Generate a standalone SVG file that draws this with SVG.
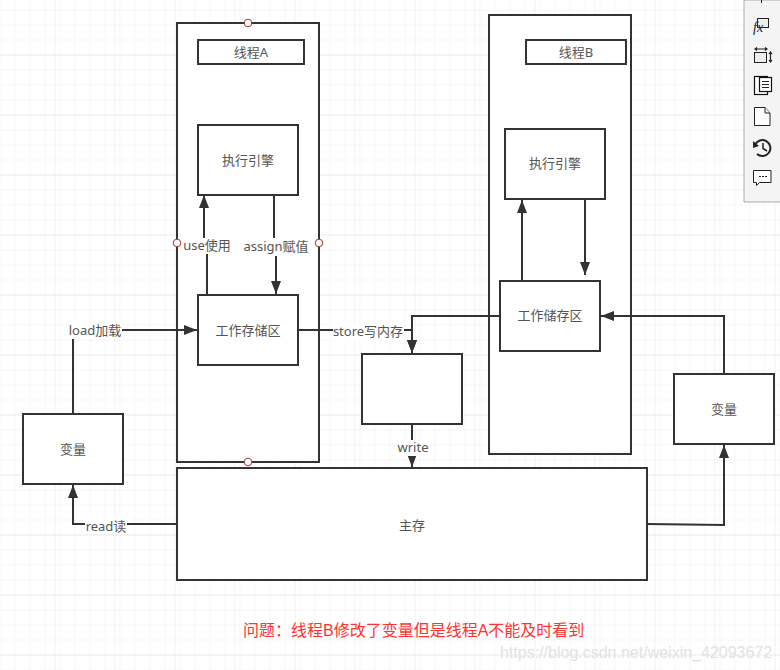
<svg xmlns="http://www.w3.org/2000/svg" width="780" height="670" viewBox="0 0 780 670">
<style>
.box{fill:#fff;stroke:#333;stroke-width:2}
.t{font-family:"Noto Sans","Noto Sans CJK SC",sans-serif;font-size:13px;fill:#555;text-anchor:middle}
.l{fill:#fff;stroke:none}
.c{fill:none;stroke:#333;stroke-width:2}
.h{fill:#fff;stroke:#a33;stroke-width:1}
.i{fill:none;stroke:#222;stroke-width:1.2}
</style>
<defs>
<pattern id="g" x="14.5" y="9.5" width="15" height="15" patternUnits="userSpaceOnUse"><path d="M0 0V15M0 0H15" fill="none" stroke="#eeeeee" stroke-width="1"/></pattern>
<pattern id="G" x="54.5" y="54.5" width="60" height="60" patternUnits="userSpaceOnUse"><path d="M0 0V60M0 0H60" fill="none" stroke="#e4e4e4" stroke-width="1"/></pattern>
<marker id="a" markerUnits="userSpaceOnUse" markerWidth="14" markerHeight="12" refX="13" refY="5" orient="auto"><path d="M0 0L13 5L0 10Z" fill="#333"/></marker>
</defs>
<rect width="780" height="670" fill="#fff"/>
<rect width="780" height="670" fill="url(#g)"/>
<rect width="780" height="670" fill="url(#G)"/>
<g id="threadA"><rect class="box" x="177" y="23" width="142" height="439"/>
<circle class="h" cx="248" cy="23" r="3.8"/><circle class="h" cx="177" cy="243" r="3.8"/><circle class="h" cx="319" cy="243" r="3.8"/><circle class="h" cx="248" cy="462" r="3.8"/></g>
<g id="threadB"><rect class="box" x="489" y="15" width="142" height="439"/></g>
<g id="labelA"><rect class="box" x="198" y="40" width="106" height="24"/><text class="t" x="251" y="57">线程A</text></g>
<g id="labelB"><rect class="box" x="526" y="40" width="100" height="24"/><text class="t" x="576" y="57">线程B</text></g>
<g id="engineA"><rect class="box" x="198" y="125" width="100" height="70"/><text class="t" x="248" y="165">执行引擎</text></g>
<g id="engineB"><rect class="box" x="505" y="129" width="100" height="70"/><text class="t" x="555" y="168">执行引擎</text></g>
<g id="workA"><rect class="box" x="198" y="295" width="100" height="70"/><text class="t" x="248" y="335">工作存储区</text></g>
<g id="workB"><rect class="box" x="500" y="281" width="100" height="70"/><text class="t" x="550" y="320">工作储存区</text></g>
<g id="buffer"><rect class="box" x="362" y="354" width="100" height="70"/></g>
<g id="varL"><rect class="box" x="23" y="414" width="100" height="70"/><text class="t" x="73" y="454">变量</text></g>
<g id="varR"><rect class="box" x="674" y="374" width="100" height="70"/><text class="t" x="724" y="414">变量</text></g>
<g id="main"><rect class="box" x="177" y="468" width="470" height="112"/><text class="t" x="412" y="530">主存</text></g>
<g id="connectors">
<path class="c" d="M207 295V242H204V195" marker-end="url(#a)"/>
<path class="c" d="M274 195V245H276V294" marker-end="url(#a)"/>
<path class="c" d="M73 414V330H197" marker-end="url(#a)"/>
<path class="c" d="M298 330H412V353" marker-end="url(#a)"/>
<path class="c" d="M500 316H412V353" marker-end="url(#a)"/>
<path class="c" d="M412 424V467" marker-end="url(#a)"/>
<path class="c" d="M177 524H73V485" marker-end="url(#a)"/>
<path class="c" d="M647 524L724 525V445" marker-end="url(#a)"/>
<path class="c" d="M724 374V316H601" marker-end="url(#a)"/>
<path class="c" d="M522 281V200" marker-end="url(#a)"/>
<path class="c" d="M585 199V275" marker-end="url(#a)"/>
<rect class="l" x="183" y="238" width="48" height="16"/><text class="t" x="207" y="250">use使用</text>
<rect class="l" x="243" y="238" width="66" height="18"/><text class="t" x="276" y="251">assign赋值</text>
<rect class="l" x="68" y="323" width="54" height="16"/><text class="t" x="95" y="335">load加载</text>
<rect class="l" x="333" y="323" width="71" height="18"/><text class="t" x="368" y="336">store写内存</text>
<rect class="l" x="397" y="440" width="32" height="16"/><text class="t" x="413" y="452">write</text>
<rect class="l" x="85" y="518" width="42" height="16"/><text class="t" x="106" y="531">read读</text>
</g>
<text x="243" y="636" font-family="'Liberation Sans','Noto Sans CJK SC',sans-serif" font-size="16" fill="#f33">问题：线程B修改了变量但是线程A不能及时看到</text>
<text x="500" y="658" font-family="'Liberation Sans',sans-serif" font-size="16" fill="#e2e2e2">https://blog.csdn.net/weixin_42093672</text>
<g id="toolbar">
<path d="M780 0H744V202H780" fill="#f4f4f4" stroke="#aaa" stroke-width="1"/>
<path d="M761.500 0V3" stroke="#222"/>
<rect x="757.500" y="18.500" width="11" height="9" fill="#eee" stroke="#222"/>
<text x="753" y="32" font-family="'Liberation Serif',serif" font-style="italic" font-size="14" fill="#222">fx</text>
<rect x="754.500" y="52.500" width="12" height="10" fill="#eee" stroke="#222"/>
<path class="i" d="M755 49H767M770.500 52V62M757 47.500L755 49L757 50.500M765 47.500L767 49L765 50.500M769 54L770.500 52L772 54M769 60L770.500 62L772 60"/>
<rect x="754.500" y="76.500" width="13" height="18" fill="#fff" stroke="#111" stroke-width="1.2"/>
<rect x="759.500" y="77.500" width="12" height="14" fill="#fff" stroke="#111" stroke-width="1.2"/>
<path class="i" d="M762 81.500H769M762 84.500H769M762 87.500H769"/>
<path d="M754.500 107.500H765L770 113V125.500H754.500Z" fill="#fff" stroke="#222"/>
<path d="M765 107.500V113H770" fill="#eee" stroke="#222"/>
<path d="M755 145A8 8 0 1 1 757 154" fill="none" stroke="#222" stroke-width="2"/>
<path d="M753 141L759 146L753 148Z" fill="#222"/>
<path d="M763 143V148.500L767 151" fill="none" stroke="#222" stroke-width="1.500"/>
<path d="M753.500 170.500H771V182.500H759.500L756.500 185.500V182.500H753.500Z" fill="#fff" stroke="#222"/>
<path d="M759 176.500H761M762 176.500H764M765 176.500H767" stroke="#222"/>
</g>
</svg>
